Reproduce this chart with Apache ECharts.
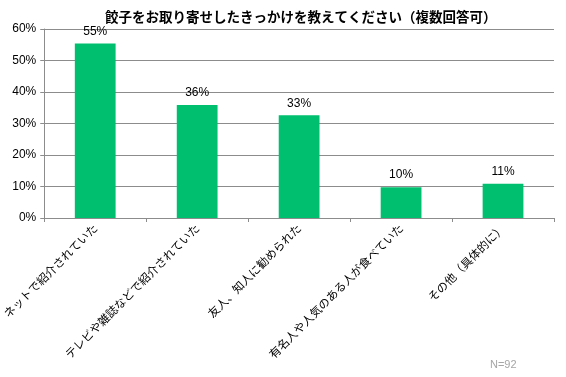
<!DOCTYPE html>
<html>
<head>
<meta charset="utf-8">
<script src="https://cdn.jsdelivr.net/npm/echarts@6/dist/echarts.min.js"></script>
<style>
  html, body { margin: 0; padding: 0; background: #fff; }
  #chart { width: 566px; height: 377px; }
</style>
</head>
<body>
<div id="chart"></div>
<script>
// 回答数 / N=92
const categories = [
  'ネットで紹介されていた',
  'テレビや雑誌などで紹介されていた',
  '友人、知人に勧められた',
  '有名人や人気のある人が食べていた',
  'その他（具体的に）'
];
const values = [55.4, 35.9, 32.6, 9.8, 10.9];
const yTicks = [0, 10, 20, 30, 40, 50, 60];

const titleText = '餃子をお取り寄せしたきっかけを教えてください（複数回答可）';
const noteText = 'N=92';

const font = '"Noto Sans CJK JP", sans-serif';
const lineColor = '#8c8c8c';

const chart = echarts.init(document.getElementById('chart'));

const option = {
  animation: false,
  title: {
    text: titleText,
    left: 100,
    top: 5,
    textStyle: { fontFamily: font, fontSize: 13.5, fontWeight: 'bold', color: '#000' }
  },
  graphic: [{
    type: 'text',
    left: 490,
    top: 359,
    style: { text: noteText, fontFamily: 'Arial, sans-serif', fontSize: 11, fill: '#a6a6a6' }
  }],
  grid: { left: 40, right: 12, top: 29, bottom: 159 },
  xAxis: {
    type: 'category',
    data: categories,
    axisLine: { lineStyle: { color: lineColor } },
    axisTick: { show: true, length: 4, alignWithLabel: false, lineStyle: { color: lineColor } },
    axisLabel: {
      rotate: 45,
      interval: 0,
      margin: 8,
      fontFamily: font,
      fontSize: 11.5,
      color: '#000'
    }
  },
  yAxis: {
    type: 'value',
    min: yTicks[0],
    max: yTicks[yTicks.length - 1],
    interval: 10,
    axisLine: { show: true, lineStyle: { color: lineColor } },
    axisTick: { show: true, length: 4, lineStyle: { color: lineColor } },
    splitLine: { lineStyle: { color: lineColor } },
    axisLabel: {
      formatter: '{value}%',
      fontFamily: 'Arial, sans-serif',
      fontSize: 12,
      color: '#000',
      margin: 8
    }
  },
  series: [{
    type: 'bar',
    data: values,
    barWidth: '40%',
    itemStyle: { color: '#00bf6f' },
    label: {
      show: true,
      position: 'top',
      distance: 6,
      fontFamily: 'Arial, sans-serif',
      fontSize: 12,
      color: '#000',
      formatter: p => Math.round(p.value) + '%'
    }
  }]
};

chart.setOption(option);
</script>
</body>
</html>
